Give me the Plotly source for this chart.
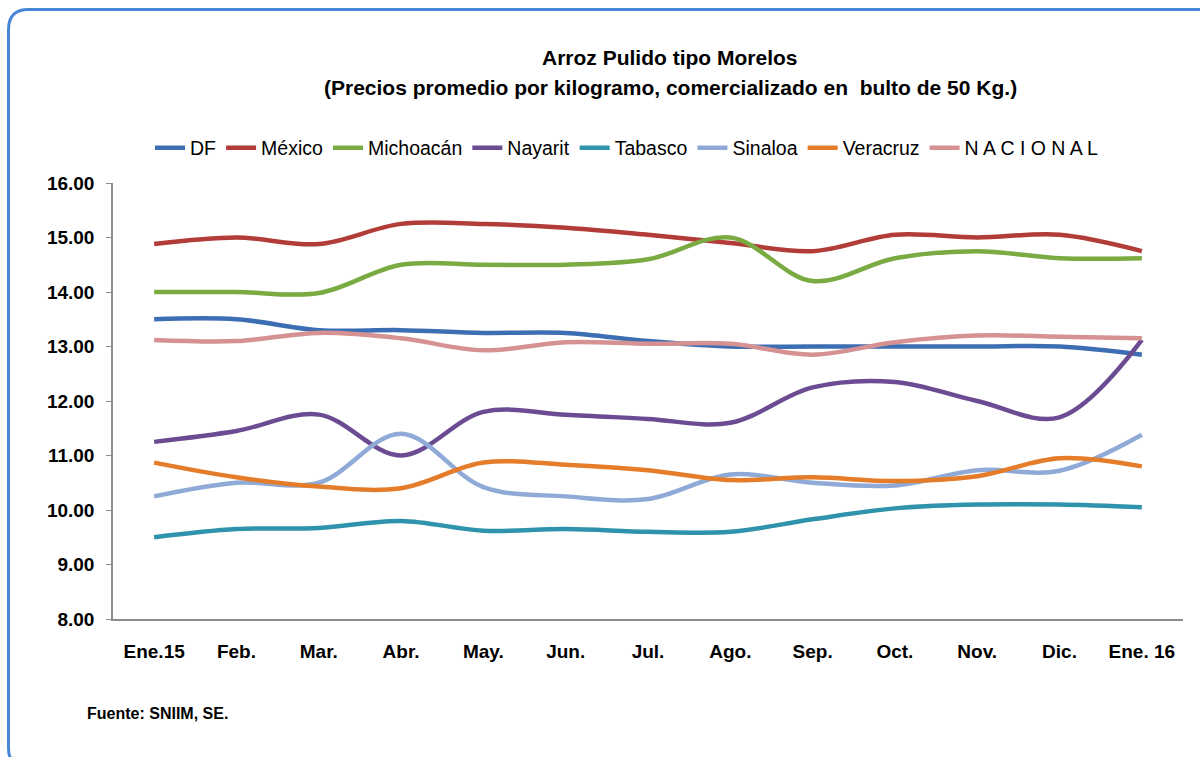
import plotly.graph_objects as go

months = ["Ene.15", "Feb.", "Mar.", "Abr.", "May.", "Jun.", "Jul.", "Ago.", "Sep.", "Oct.", "Nov.", "Dic.", "Ene. 16"]

df_vals = [13.50, 13.50, 13.30, 13.30, 13.25, 13.25, 13.10, 13.00, 13.00, 13.00, 13.00, 13.00, 12.85]
mexico = [14.88, 15.00, 14.88, 15.25, 15.25, 15.18, 15.05, 14.90, 14.75, 15.05, 15.00, 15.05, 14.75]
michoacan = [14.00, 14.00, 13.98, 14.50, 14.50, 14.50, 14.60, 15.00, 14.20, 14.62, 14.75, 14.62, 14.62]
nayarit = [11.25, 11.45, 11.75, 11.00, 11.80, 11.75, 11.67, 11.60, 12.25, 12.35, 12.00, 11.70, 13.12]
tabasco = [9.50, 9.65, 9.67, 9.80, 9.62, 9.65, 9.60, 9.60, 9.83, 10.03, 10.10, 10.10, 10.05]
sinaloa = [10.25, 10.50, 10.50, 11.40, 10.42, 10.25, 10.20, 10.65, 10.50, 10.45, 10.73, 10.72, 11.38]
veracruz = [10.87, 10.60, 10.43, 10.40, 10.87, 10.83, 10.73, 10.55, 10.60, 10.53, 10.62, 10.95, 10.80]
nacional = [13.12, 13.10, 13.25, 13.15, 12.93, 13.08, 13.05, 13.05, 12.85, 13.08, 13.20, 13.18, 13.15]

series = [
    ("DF", df_vals, "#3d6eb4"),
    ("México", mexico, "#b23c38"),
    ("Michoacán", michoacan, "#7aab43"),
    ("Nayarit", nayarit, "#6b4c92"),
    ("Tabasco", tabasco, "#2f93ab"),
    ("Sinaloa", sinaloa, "#8faad7"),
    ("Veracruz", veracruz, "#e47c2a"),
    ("N A C I O N A L", nacional, "#d69292"),
]

fig = go.Figure()
for name, vals, color in series:
    fig.add_trace(go.Scatter(
        x=months, y=vals, name=name, mode="lines",
        line=dict(color=color, width=4.5, shape="spline", smoothing=1.0),
    ))

FONT = "Liberation Sans Narrow, Arial Narrow, Liberation Sans, sans-serif"

L, R, T, B = 113, 17, 183, 138
W, H = 1200, 757
pw, ph = W - L - R, H - T - B

def px_x(x):
    return (x - L) / pw

def px_y(y):
    return (H - B - y) / ph

# rounded border frame
x0, y0, x1, y1, r = 8.5, 9.5, 1215, 768, 20
path = (f"M {px_x(x1)} {px_y(y0)} "
        f"L {px_x(x0 + r)} {px_y(y0)} "
        f"Q {px_x(x0)} {px_y(y0)} {px_x(x0)} {px_y(y0 + r)} "
        f"L {px_x(x0)} {px_y(y1 - r)} "
        f"Q {px_x(x0)} {px_y(y1)} {px_x(x0 + r)} {px_y(y1)}")

fig.update_layout(
    width=W, height=H,
    margin=dict(l=L, r=R, t=T, b=B),
    paper_bgcolor="white", plot_bgcolor="white",
    font=dict(family=FONT, color="black"),
    legend=dict(
        orientation="h", x=px_x(627), xanchor="center",
        y=px_y(148), yanchor="middle",
        font=dict(family=FONT, size=19.5, color="black"),
        bgcolor="rgba(0,0,0,0)",
    ),
    xaxis=dict(
        type="category", showgrid=False, showline=True, linecolor="#8c8c8c", linewidth=1.5,
        ticks="", tickfont=dict(family=FONT, size=19, color="black"),
        ticklabelstandoff=14,
        range=[-0.5, 12.5],
    ),
    yaxis=dict(
        range=[8, 16], tickvals=[8, 9, 10, 11, 12, 13, 14, 15, 16],
        ticktext=["<b>%.2f</b>" % v for v in [8, 9, 10, 11, 12, 13, 14, 15, 16]],
        showgrid=False, zeroline=False, showline=True, linecolor="#8c8c8c", linewidth=1.5,
        ticks="outside", ticklen=5, tickcolor="#8c8c8c",
        ticklabelstandoff=8,
        tickfont=dict(family=FONT, size=19, color="black"),
    ),
    shapes=[dict(type="path", xref="paper", yref="paper", path=path,
                 line=dict(color="#4a86d8", width=3))],
    annotations=[
        dict(text="<b>Arroz Pulido tipo Morelos</b>", xref="paper", yref="paper",
             x=px_x(670), y=px_y(57), xanchor="center", yanchor="middle",
             showarrow=False, font=dict(family=FONT, size=21, color="black")),
        dict(text="<b>(Precios promedio por kilogramo, comercializado en  bulto de 50 Kg.)</b>",
             xref="paper", yref="paper",
             x=px_x(670), y=px_y(88), xanchor="center", yanchor="middle",
             showarrow=False, font=dict(family=FONT, size=21, color="black")),
        dict(text="<b>Fuente: SNIIM, SE.</b>", xref="paper", yref="paper",
             x=px_x(85), y=px_y(713), xanchor="left", yanchor="middle",
             showarrow=False, font=dict(family=FONT, size=16, color="black")),
    ],
)
fig.update_xaxes(ticktext=["<b>%s</b>" % m for m in months], tickvals=months)

fig.write_html("out.html")
